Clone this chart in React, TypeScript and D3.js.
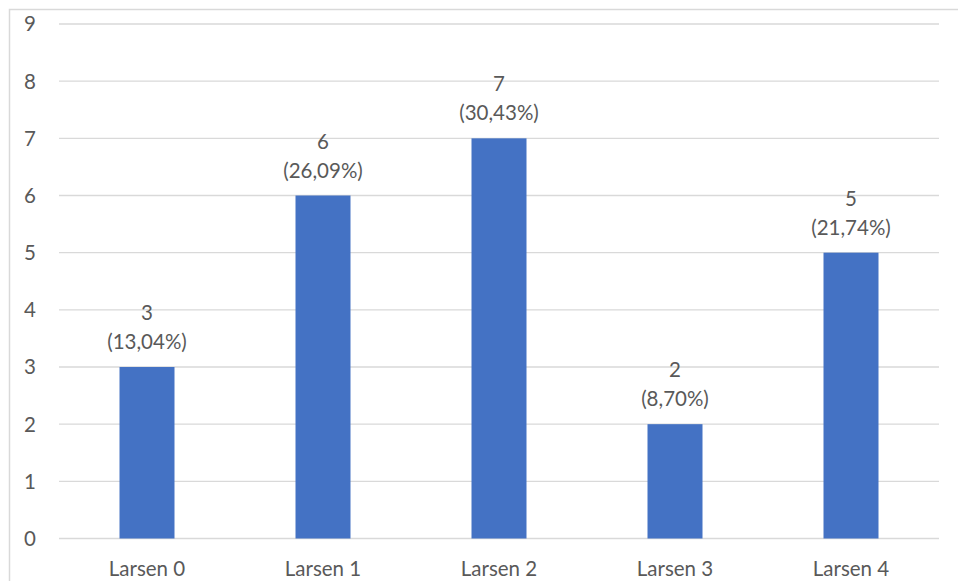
import React from "react";
import * as d3 from "d3";

const categories = ["Larsen 0", "Larsen 1", "Larsen 2", "Larsen 3", "Larsen 4"];
const values = [3, 6, 7, 2, 5];
const percentLabels = ["13,04%", "26,09%", "30,43%", "8,70%", "21,74%"];
const yTicks = [0, 1, 2, 3, 4, 5, 6, 7, 8, 9];

const W = 958;
const H = 581;
const FONT = "Lato, 'Open Sans', sans-serif";
const TEXT = "#595959";
const GRID = "#d9d9d9";
const BAR = "#4472C4";
const FS = 20.5;

export default function App() {
  const x = d3.scaleBand<string>().domain(categories).range([59, 939]).paddingInner(0.6875).paddingOuter(0.34375);
  const y = d3.scaleLinear().domain([0, 9]).range([538.5, 24]);

  return (
    <div style={{ position: "fixed", left: 0, top: 0, width: W, height: H, background: "#fff" }}>
      <svg width={W} height={H} style={{ display: "block" }}>
        <rect x={9.5} y={9.5} width={W + 10} height={H + 10} fill="#fff" stroke={GRID} strokeWidth={1.5} />
        {yTicks.map((t) => (
          <g key={t}>
            <line x1={59} x2={939} y1={y(t)} y2={y(t)} stroke={GRID} strokeWidth={1.3} />
            <text x={36} y={y(t)} dy="0.36em" textAnchor="end" fontFamily={FONT} fontSize={FS} fill={TEXT}>
              {t}
            </text>
          </g>
        ))}
        {categories.map((c, i) => {
          const bx = x(c)!;
          const bw = x.bandwidth();
          const cx = bx + bw / 2;
          const top = y(values[i]);
          return (
            <g key={c}>
              <rect x={bx} y={top} width={bw} height={y(0) - top} fill={BAR} />
              <text x={cx} y={top - 47} textAnchor="middle" fontFamily={FONT} fontSize={FS} fill={TEXT}>
                {values[i]}
              </text>
              <text x={cx} y={top - 18} textAnchor="middle" fontFamily={FONT} fontSize={FS} fill={TEXT}>
                {`(${percentLabels[i]})`}
              </text>
              <text x={cx} y={575.5} textAnchor="middle" fontFamily={FONT} fontSize={FS} fill={TEXT}>
                {c}
              </text>
            </g>
          );
        })}
      </svg>
    </div>
  );
}
